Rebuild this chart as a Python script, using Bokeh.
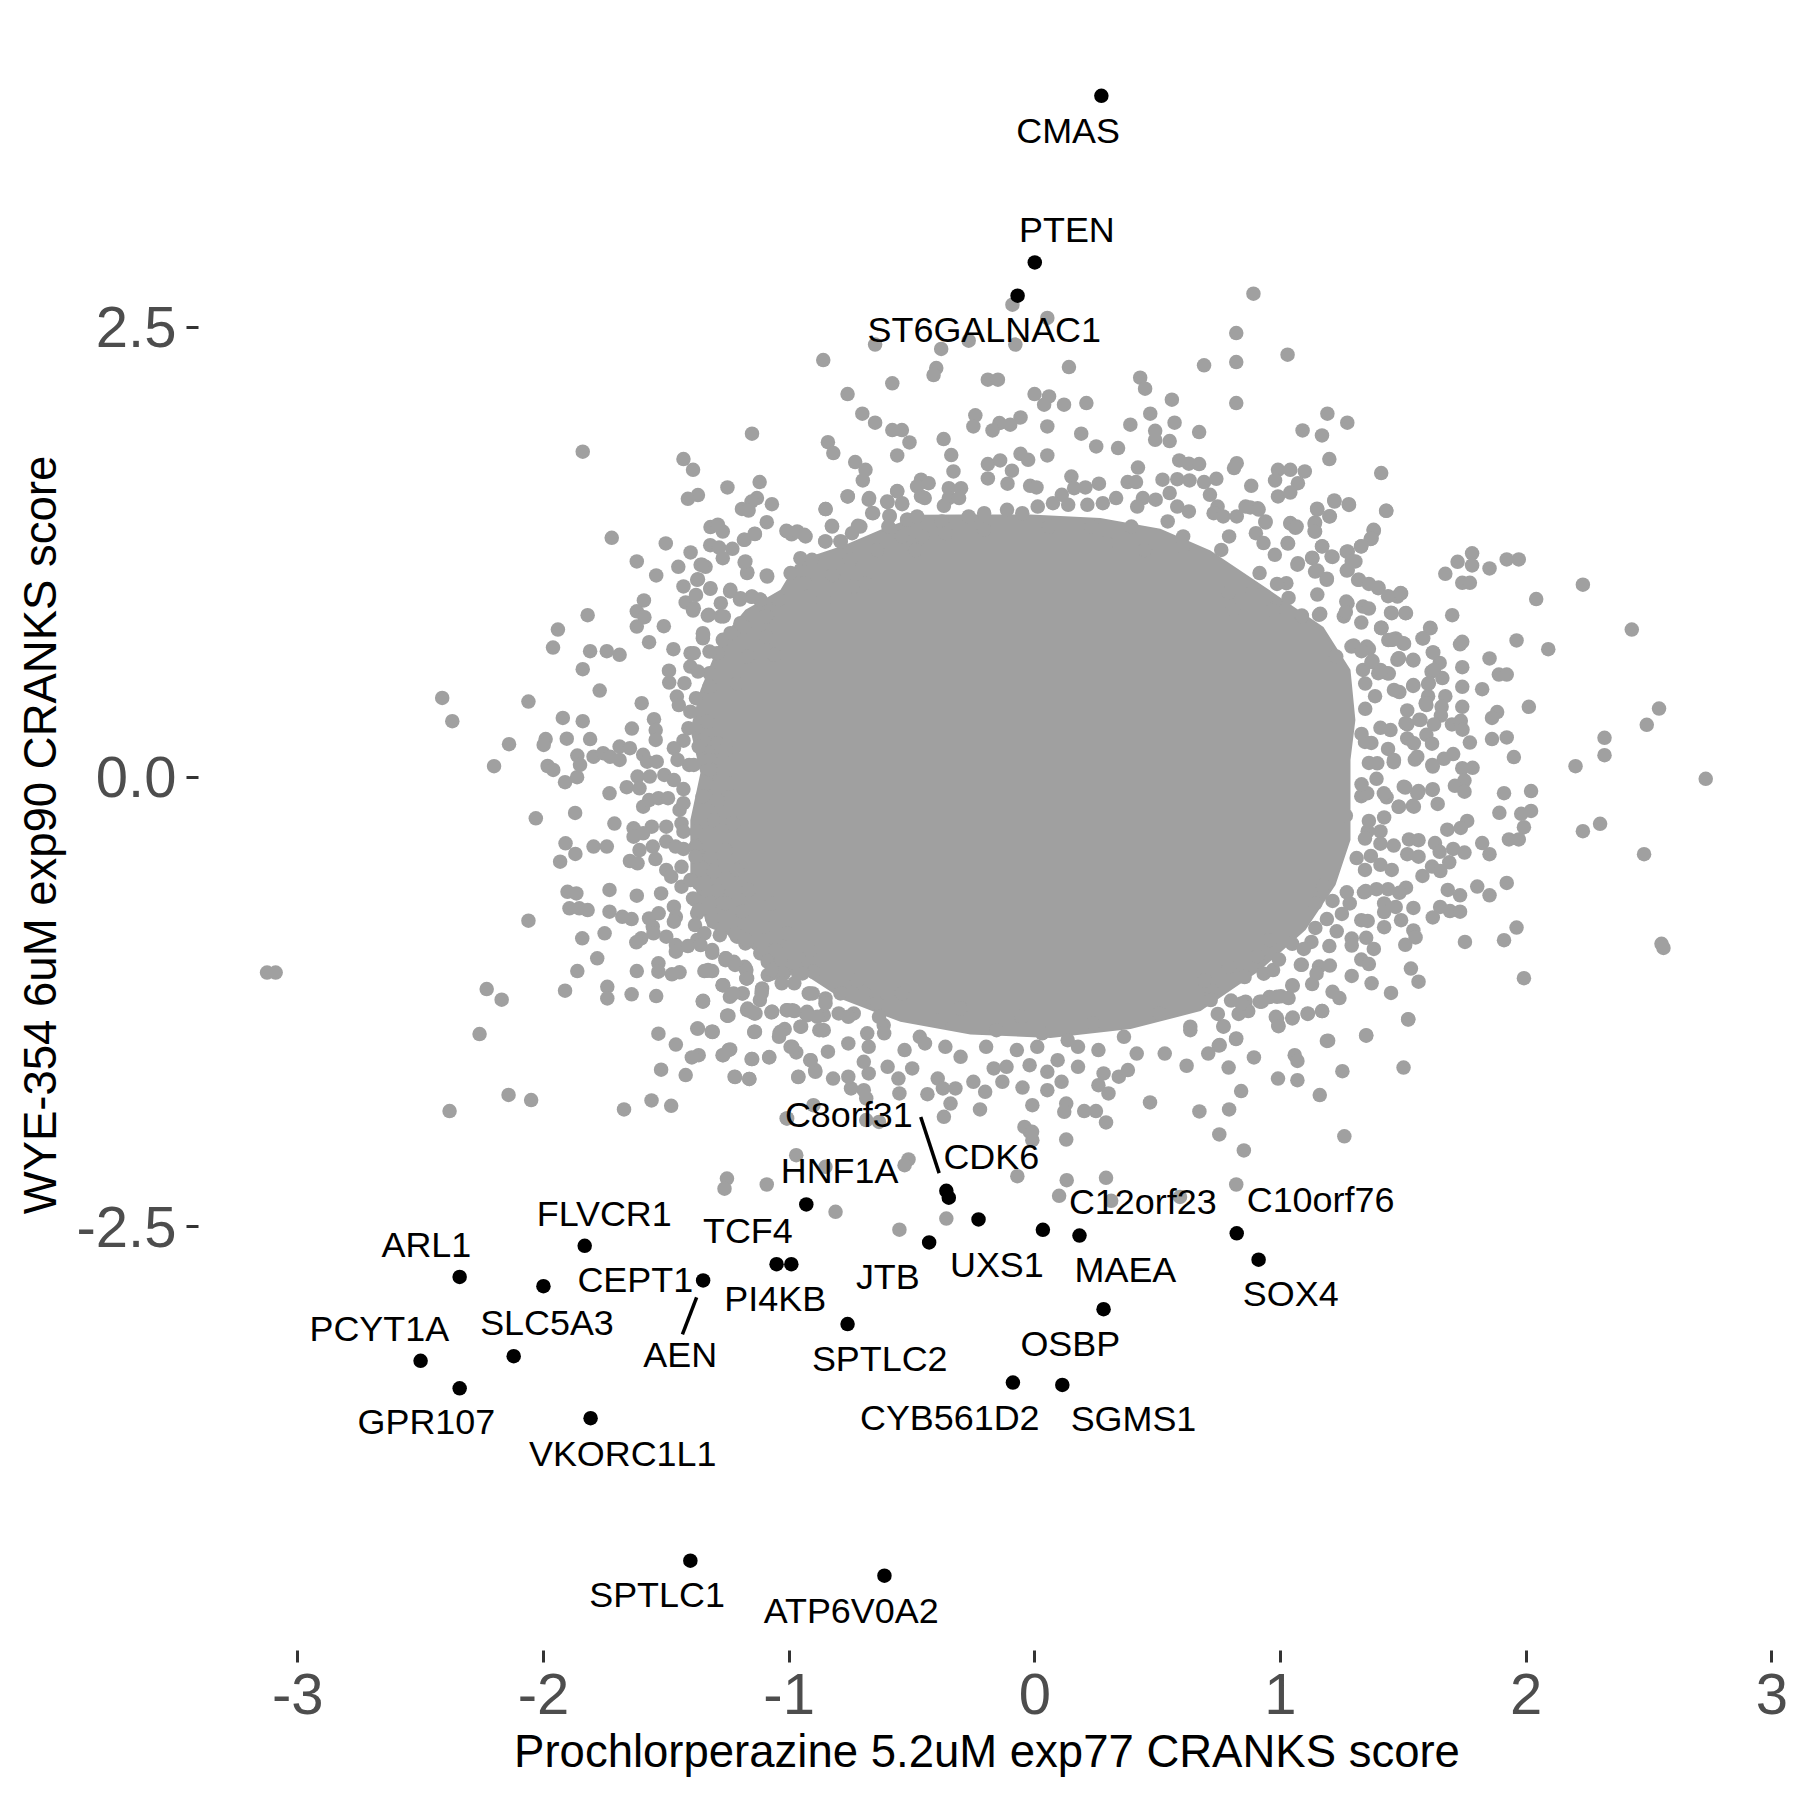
from bokeh.plotting import figure
from bokeh.models import FixedTicker
from bokeh.core.properties import value
from bokeh.embed import file_html
from bokeh.resources import INLINE

# Outline of the solid grey core
core_x = [-1.361,-1.279,-1.178,-1.035,-0.974,-0.893,-0.771,-0.628,-0.465,-0.302,-0.018,0.267,0.511,0.715,0.972,1.175,1.285,1.305,1.285,1.285,1.285,1.224,1.102,0.919,0.675,0.390,0.064,-0.262,-0.547,-0.778,-0.953,-1.063,-1.129,-1.198,-1.332,-1.402,-1.402,-1.361,-1.402]
core_y = [0.485,0.763,0.930,1.041,1.180,1.236,1.291,1.375,1.458,1.46,1.46,1.44,1.38,1.26,1.024,0.835,0.597,0.318,0.096,-0.127,-0.349,-0.600,-0.850,-1.072,-1.30,-1.40,-1.45,-1.43,-1.36,-1.239,-1.083,-1.128,-0.978,-0.905,-0.833,-0.533,-0.238,0.023,0.263]

grey_upper_left = [(-1.151,1.909),(-1.840,1.809),(-1.430,1.768),(-1.391,1.708),(-1.120,1.640),(-1.251,1.610),(-1.371,1.568),(-1.412,1.547),(-1.131,1.551),(-1.153,1.532),(-1.192,1.491),(-1.165,1.482),(-1.070,1.517),(-1.091,1.417),(-1.011,1.369),(-0.99,1.35),(-1.320,1.39),(-1.290,1.403),(-1.270,1.365),(-1.139,1.351),(-1.181,1.319),(-1.722,1.330),(-1.502,1.299),(-1.321,1.289),(-1.285,1.276),(-1.231,1.269),(-1.401,1.249),(-1.270,1.217),(-1.620,1.199),(-1.181,1.193),(-1.451,1.169),(-1.360,1.180),(-1.340,1.169),(-1.170,1.139),(-1.091,1.121),(-1.541,1.121),(-1.371,1.100),(-1.430,1.060),(-1.321,1.047),(-1.240,1.032),(-1.591,0.982),(-1.421,0.971),(-1.379,1.013),(-1.153,1.002),(-1.119,0.987),(-1.200,0.987),(-1.278,0.967),(-1.391,0.926),(-1.620,0.922),(-1.589,0.889),(-1.820,0.900),(-1.620,0.837),(-1.510,0.839),(-1.941,0.820),(-1.331,0.898),(-1.570,0.750),(-1.961,0.720),(-1.810,0.700),(-1.742,0.700),(-1.690,0.680),(-1.471,0.711),(-1.401,0.689),(-1.840,0.600),(-1.489,0.592),(-1.771,0.481),(-2.412,0.440),(-2.061,0.420),(-1.600,0.411),(-2.371,0.311),(-1.921,0.329),(-1.840,0.311),(-1.640,0.270),(-1.550,0.322),(-1.543,0.262),(-1.543,0.207),(-1.991,0.212),(-1.905,0.214),(-1.810,0.212),(-2.140,0.183),(-1.430,0.203),(-1.410,0.272),(-1.332,0.309),(-1.211,0.522),(-1.426,0.522),(-1.488,0.526),(-1.457,0.448),(-1.449,0.401),(-1.402,0.364),(-1.379,0.439),(-1.324,0.503),(-1.324,0.578),(-1.402,0.615),(-1.371,0.587),(-1.293,0.689),(-1.324,0.698),(-1.270,0.763),(-1.351,0.80),(-1.351,0.772),(-1.278,0.893),(-1.239,0.80),(-1.184,0.837),(-1.169,0.670),(-1.091,0.893),(-1.091,0.781),(-1.060,0.680)]

grey_upper_band = [(-1.089,1.115),(-1.171,1.134),(-1.178,1.199),(-1.239,1.041),(-1.151,1.004),(-1.198,0.995),(-1.117,0.986),(-1.320,1.050),(-1.374,1.097),(-1.354,1.180),(-1.388,0.939),(-1.327,0.902),(-1.266,0.893),(-1.198,0.856),(-1.096,0.893),(-1.042,0.986),(-0.994,1.134),(-0.954,1.217),(-0.852,1.310),(-0.791,1.310),(-0.825,1.393),(-0.710,1.393),(-0.852,1.490),(-0.761,1.560),(-0.676,1.542),(-0.662,1.468),(-0.591,1.449),(-0.601,1.532),(-0.540,1.523),(-0.560,1.588),(-0.520,1.431),(-1.008,1.366),(-0.933,1.338),(-0.967,1.366),(-1.140,1.353),(-1.184,1.319),(-1.350,0.791),(-1.388,0.689)]

grey_top = [(0.890,2.687),(-0.091,2.626),(0.051,2.552),(0.820,2.468),(-0.650,2.404),(-0.269,2.426),(-0.079,2.404),(-0.381,2.380),(-0.861,2.318),(1.029,2.348),(0.820,2.307),(0.689,2.289),(0.139,2.279),(-0.401,2.274),(-0.412,2.235),(-0.580,2.189),(-0.191,2.209),(-0.150,2.209),(-0.762,2.129),(0.429,2.220),(0.449,2.159),(-0.001,2.129),(0.058,2.116),(0.038,2.070),(0.119,2.070),(0.210,2.079),(0.558,2.098),(0.820,2.079),(-0.702,2.020),(-0.650,1.970),(0.470,2.020),(1.191,2.020),(1.272,1.970),(-0.242,2.011),(-0.250,1.949),(-0.058,1.999),(-0.100,1.959),(-0.144,1.968),(-0.172,1.927),(0.051,1.949),(0.389,1.959),(0.569,1.970),(-0.580,1.929),(-0.541,1.929),(0.189,1.909),(0.490,1.925),(0.490,1.875),(0.549,1.868),(0.669,1.918),(1.090,1.927),(1.169,1.899),(-0.842,1.862),(-0.510,1.860),(-0.371,1.879),(-0.820,1.801),(0.250,1.838),(0.339,1.829),(-0.560,1.788),(-0.340,1.790),(-0.058,1.797),(-0.027,1.764),(0.051,1.788),(1.199,1.768),(-0.731,1.751),(-0.689,1.708),(-0.191,1.740),(-0.141,1.760),(-0.331,1.699),(-0.093,1.703),(0.420,1.721),(0.588,1.760),(0.627,1.742),(0.669,1.740),(0.822,1.745),(0.811,1.718),(0.990,1.708),(1.040,1.708),(1.099,1.699),(1.410,1.690),(-0.700,1.649),(-0.191,1.660),(-0.463,1.653),(-0.432,1.634),(0.149,1.671),(0.378,1.640),(0.412,1.640),(0.520,1.653),(0.580,1.656),(0.630,1.649),(0.689,1.640),(0.739,1.658),(0.978,1.649),(1.071,1.634),(0.881,1.619),(-0.111,1.631),(-0.019,1.619),(0.007,1.610),(-0.479,1.616),(-0.350,1.606),(-0.300,1.606),(0.160,1.606),(0.206,1.610),(0.261,1.631)]

grey_top_ring = [(-0.560,1.590),(-0.762,1.560),(-0.674,1.551),(-0.599,1.529),(-0.540,1.517),(-0.463,1.560),(-0.448,1.551),(-0.350,1.551),(-0.308,1.551),(0.549,1.579),(0.713,1.569),(0.990,1.560),(1.040,1.582),(0.110,1.569),(0.331,1.551),(0.440,1.551),(0.492,1.542),(1.219,1.538),(1.278,1.517),(1.431,1.480),(-0.851,1.490),(1.149,1.492),(1.199,1.449),(0.858,1.504),(0.907,1.495),(-0.658,1.467),(-0.591,1.453),(-0.370,1.508),(0.012,1.504),(0.074,1.523),(0.136,1.514),(0.214,1.514),(0.277,1.523),(0.417,1.504),(0.580,1.504),(0.627,1.477),(0.744,1.504),(0.728,1.467),(0.767,1.449),(0.822,1.449),(0.939,1.421),(1.040,1.412),(1.066,1.393),(1.141,1.415),(1.141,1.365),(1.379,1.375),(1.367,1.323),(1.328,1.282),(1.169,1.282),(1.029,1.301),(-0.826,1.397),(-0.720,1.397),(-0.596,1.393),(-0.518,1.430),(-0.479,1.449),(-0.378,1.421),(-0.269,1.449),(-0.206,1.467),(-0.113,1.486),(-0.051,1.467),(0.541,1.421),(0.393,1.393),(-0.938,1.347),(-0.853,1.310),(-0.790,1.310),(-0.744,1.356),(-0.541,1.338),(-0.456,1.338),(-0.362,1.356),(-0.206,1.375),(0.058,1.393),(0.230,1.393),(0.604,1.338),(0.900,1.356),(0.791,1.338),(0.931,1.301),(1.274,1.254),(1.208,1.226),(1.130,1.217),(1.305,1.199),(1.274,1.152),(1.188,1.097),(1.141,1.143),(1.071,1.189),(0.977,1.236),(1.024,1.078),(1.320,1.097),(1.398,1.050),(1.476,1.004),(1.273,0.967),(1.336,0.948),(1.453,0.911),(1.157,0.902),(1.087,0.893),(0.977,0.939),(1.411,0.831),(1.453,0.763),(1.289,0.726),(1.351,0.726),(1.227,0.670),(1.476,0.652),(1.398,0.578),(1.336,0.596),(1.258,0.893),(0.759,1.263),(0.604,1.282),(0.448,1.263),(0.292,1.301),(-0.642,1.263),(-0.752,1.208),(-0.907,1.208),(-0.822,1.124),(-0.938,1.078),(-0.487,1.263),(-0.736,1.060),(-0.860,0.985),(-0.689,1.078),(0.915,1.134),(0.806,0.930)]

grey_right = [(1.430,1.480),(0.877,1.499),(0.911,1.487),(1.150,1.487),(1.201,1.450),(1.279,1.513),(1.220,1.532),(1.041,1.409),(1.061,1.386),(1.139,1.409),(1.139,1.366),(0.939,1.415),(1.380,1.370),(1.371,1.327),(1.329,1.283),(1.031,1.298),(1.170,1.283),(1.212,1.224),(1.129,1.220),(1.270,1.253),(1.290,1.201),(1.270,1.148),(1.150,1.148),(1.189,1.103),(1.069,1.181),(1.780,1.244),(1.721,1.197),(1.780,1.177),(1.851,1.160),(1.921,1.210),(1.970,1.210),(1.671,1.130),(1.740,1.080),(1.771,1.080),(2.231,1.070),(2.041,0.990),(1.699,0.900),(2.430,0.820),(1.316,1.097),(1.360,1.074),(1.399,1.054),(1.491,1.021),(1.438,1.006),(1.511,0.912),(1.450,0.914),(1.268,0.976),(1.360,0.937),(1.266,0.918),(1.162,0.908),(1.087,0.898),(1.150,1.015),(1.033,0.996),(0.986,1.074),(0.885,1.025),(0.791,1.025),(0.970,0.927),(1.329,0.859),(1.609,0.830),(1.410,0.830),(1.578,0.771),(1.439,0.762),(1.469,0.771),(1.503,0.742),(1.740,0.752),(1.731,0.738),(1.961,0.760),(2.090,0.711),(1.298,0.732),(1.360,0.713),(1.620,0.693),(1.851,0.660),(1.481,0.660),(1.541,0.649),(1.648,0.635),(1.615,0.586),(1.740,0.611),(1.375,0.645),(1.441,0.576),(1.889,0.570),(1.921,0.570),(1.659,0.551),(1.601,0.518),(1.541,0.512),(1.740,0.502),(1.821,0.489),(1.484,0.473),(1.671,0.450),(1.601,0.450),(1.594,0.401),(2.011,0.391),(2.541,0.381),(1.740,0.391),(1.656,0.391),(1.882,0.362),(1.861,0.329),(1.516,0.371),(1.565,0.319),(1.653,0.342),(1.698,0.293),(1.734,0.313),(1.741,0.264),(2.491,0.291),(2.319,0.219),(1.771,0.192),(1.861,0.212),(1.921,0.221),(1.625,0.293),(1.516,0.293),(1.407,0.274),(1.594,0.235),(1.516,0.215),(1.617,0.186),(1.344,0.196),(1.438,0.157),(1.950,0.112),(2.319,0.122),(1.703,0.128),(1.665,0.102),(1.547,0.098),(2.201,0.061),(1.620,0.059),(1.740,0.050),(1.782,0.052),(1.461,0.083),(2.731,-0.009),(1.360,0.079),(1.391,-0.009),(1.749,-0.019),(1.710,-0.048),(1.749,-0.081),(1.620,-0.067),(1.508,-0.058),(1.562,-0.077),(1.910,-0.089),(2.020,-0.077),(1.432,-0.112),(1.640,-0.149),(1.539,-0.159),(1.481,-0.165),(1.329,-0.106)]

grey_right_band = [(1.410,0.828),(1.509,0.911),(1.489,1.023),(1.611,0.828),(1.581,0.772),(1.455,0.763),(1.500,0.744),(1.482,0.661),(1.540,0.652),(1.622,0.693),(1.625,0.596),(1.540,0.507),(1.604,0.522),(1.591,0.411),(1.570,0.318),(1.509,0.300),(1.434,0.578),(1.407,0.596),(1.462,0.485),(1.543,0.188),(1.618,0.068),(1.462,0.096),(1.557,0.114),(1.618,-0.071),(1.502,-0.053),(1.557,-0.090),(1.482,-0.164),(1.421,-0.090),(1.353,-0.090),(1.543,-0.164),(1.394,0.077),(1.448,0.262),(1.330,0.700),(1.370,0.640),(1.345,0.520),(1.385,0.450),(1.345,0.380),(1.330,0.240),(1.370,0.190),(1.330,-0.040),(1.355,-0.300),(1.310,-0.450),(1.340,-0.640),(1.270,-0.640),(1.250,-0.760)]

grey_lower_right = [(1.891,-0.198),(1.980,-0.204),(2.020,-0.188),(1.760,-0.243),(1.991,-0.278),(1.734,-0.282),(1.679,-0.292),(2.301,-0.259),(2.231,-0.300),(1.422,-0.224),(1.360,-0.243),(1.266,-0.214),(1.407,-0.302),(1.523,-0.346),(1.562,-0.350),(1.930,-0.346),(1.970,-0.346),(1.629,-0.366),(1.407,-0.370),(1.461,-0.380),(1.821,-0.366),(1.703,-0.399),(1.749,-0.419),(1.851,-0.428),(2.480,-0.428),(1.648,-0.415),(1.516,-0.428),(1.562,-0.442),(1.344,-0.341),(1.687,-0.473),(1.368,-0.438),(1.617,-0.497),(1.407,-0.487),(1.453,-0.516),(1.651,-0.522),(1.578,-0.549),(1.344,-0.516),(1.921,-0.588),(1.511,-0.614),(1.801,-0.608),(1.681,-0.627),(1.731,-0.657),(1.851,-0.657),(1.438,-0.623),(1.391,-0.623),(1.484,-0.643),(1.347,-0.633),(1.282,-0.702),(1.212,-0.688),(1.422,-0.702),(1.469,-0.721),(1.541,-0.727),(1.650,-0.721),(1.690,-0.744),(1.731,-0.748),(1.620,-0.780),(1.422,-0.750),(1.189,-0.789),(1.329,-0.795),(1.355,-0.799),(1.491,-0.795),(1.422,-0.834),(1.961,-0.836),(1.229,-0.857),(1.541,-0.852),(1.550,-0.891),(1.508,-0.932),(1.910,-0.906),(1.751,-0.916),(1.290,-0.897),(1.290,-0.936),(1.349,-0.893),(1.380,-0.955),(1.199,-0.939),(2.551,-0.926),(2.559,-0.949),(1.329,-1.014),(1.360,-1.039),(1.531,-1.064),(1.201,-1.047),(1.157,-1.053),(1.083,-1.043),(1.562,-1.137),(1.991,-1.117),(1.290,-1.105),(1.371,-1.146),(1.147,-1.092),(1.129,-1.150),(1.050,-1.160),(1.450,-1.199),(1.212,-1.193),(1.240,-1.228),(1.002,-1.218),(1.033,-1.228),(0.955,-1.222),(0.916,-1.248),(1.170,-1.300),(1.111,-1.316),(1.050,-1.336),(0.981,-1.332),(0.991,-1.378),(1.520,-1.345),(0.858,-1.248),(0.799,-1.242),(0.869,-1.300),(0.830,-1.316),(0.745,-1.316),(0.768,-1.384),(1.349,-1.437),(0.819,-1.456),(1.189,-1.466),(0.749,-1.492),(0.932,-1.092),(0.854,-1.111),(0.791,-1.053),(0.970,-1.072),(0.994,-1.014),(1.087,-1.043),(0.908,-0.994),(1.048,-0.926),(0.955,-0.906),(1.126,-0.916),(1.142,-0.838),(1.095,-0.955),(1.142,-0.702),(1.173,-0.604),(0.721,-1.189),(0.690,-1.131)]

grey_left = [(-1.999,0.179),(-2.201,0.061),(-1.983,0.062),(-1.960,0.040),(-1.862,0.120),(-1.851,0.068),(-1.863,0.0),(-1.912,-0.028),(-1.796,0.114),(-1.757,0.133),(-1.729,0.114),(-1.690,0.096),(-1.690,0.170),(-1.648,0.161),(-1.594,0.124),(-1.578,0.086),(-1.539,0.086),(-1.469,0.161),(-1.407,0.068),(-1.454,0.096),(-1.617,0.003),(-1.567,0.003),(-1.508,0.012),(-1.469,-0.016),(-1.430,-0.066),(-1.661,-0.056),(-1.609,-0.062),(-1.731,-0.090),(-1.594,-0.164),(-1.570,-0.127),(-1.532,-0.117),(-1.493,-0.117),(-1.446,-0.182),(-1.430,-0.145),(-1.871,-0.199),(-2.031,-0.229),(-1.711,-0.258),(-1.633,-0.284),(-1.559,-0.275),(-1.500,-0.275),(-1.633,-0.331),(-1.594,-0.312),(-1.438,-0.257),(-1.430,-0.303),(-1.376,-0.303),(-1.306,-0.238),(-1.910,-0.368),(-1.796,-0.386),(-1.742,-0.386),(-1.870,-0.427),(-1.932,-0.470),(-1.609,-0.405),(-1.555,-0.386),(-1.500,-0.358),(-1.462,-0.386),(-1.430,-0.399),(-1.368,-0.396),(-1.648,-0.466),(-1.617,-0.479),(-1.544,-0.455),(-1.500,-0.516),(-1.480,-0.553),(-1.438,-0.498),(-1.321,-0.442),(-1.259,-0.405),(-1.306,-0.525),(-1.902,-0.637),(-1.866,-0.646),(-1.731,-0.627),(-1.620,-0.659),(-1.521,-0.646),(-1.438,-0.609),(-1.368,-0.590),(-1.290,-0.627),(-1.391,-0.674),(-1.352,0.207),(-1.368,0.170),(-1.290,0.188),(-1.321,0.096),(-1.321,0.040),(-1.337,-0.034),(-1.352,-0.108),(-1.290,-0.127),(-1.259,0.151),(-1.243,-0.034),(-1.228,-0.257),(-1.212,-0.516),(-1.165,-0.627),(-1.103,-0.831),(-1.010,-0.868),(-1.072,-0.701)]

grey_lower_band = [(-1.388,0.068),(-1.381,-0.386),(-1.381,-0.442),(-1.402,-0.572),(-1.381,-0.683),(-1.313,-0.785),(-1.374,-0.757),(-1.374,-0.905),(-1.313,-0.961),(-1.259,-1.007),(-1.225,-1.026),(-1.178,-1.063),(-1.171,-1.119),(-1.212,-0.887),(-1.178,-0.924),(-1.117,-0.980),(-1.076,-1.000),(-1.069,-1.091),(-1.022,-1.091),(-1.110,-1.174),(-1.191,-1.202),(-1.241,-1.221),(-1.270,-1.156),(-1.331,-1.076),(-1.350,-1.243),(-1.252,-1.326),(-1.171,-1.295),(-1.137,-1.313),(-1.069,-1.304),(-1.008,-1.295),(-0.927,-1.304),(-0.954,-1.387),(-0.859,-1.323),(-0.852,-1.230),(-0.920,-1.202),(-0.954,-1.072),(-0.791,-1.202),(-0.798,-1.313),(-0.723,-1.128),(-0.737,-1.313),(-0.859,-1.406),(-1.035,-1.415),(-1.141,-1.415),(-1.311,-1.415),(-1.374,-1.397),(-0.682,-1.424),(-0.615,-1.378),(-0.642,-1.258)]

grey_lower_left = [(-1.894,-0.729),(-1.854,-0.729),(-1.820,-0.739),(-1.731,-0.748),(-1.679,-0.776),(-1.641,-0.789),(-2.061,-0.798),(-1.570,-0.785),(-1.531,-0.757),(-1.469,-0.720),(-1.461,-0.776),(-1.469,-0.803),(-1.368,-0.738),(-1.313,-0.785),(-1.383,-0.822),(-1.555,-0.831),(-1.552,-0.868),(-1.321,-0.701),(-1.259,-0.701),(-1.189,-0.748),(-1.751,-0.868),(-1.842,-0.896),(-1.500,-0.887),(-1.345,-0.868),(-1.282,-0.878),(-1.220,-0.868),(-1.602,-0.896),(-1.622,-0.918),(-1.461,-0.933),(-1.412,-0.939),(-1.360,-0.933),(-1.461,-0.970),(-1.313,-0.976),(-1.173,-0.905),(-1.103,-0.952),(-1.056,-0.961),(-1.259,-1.017),(-1.220,-1.044),(-1.181,-1.054),(-1.781,-1.007),(-1.532,-1.035),(-1.087,-1.026),(-1.033,-1.017),(-0.916,-0.961),(-1.862,-1.078),(-1.620,-1.078),(-1.532,-1.081),(-1.477,-1.096),(-1.446,-1.085),(-1.345,-1.078),(-1.313,-1.078),(-1.173,-1.119),(-1.087,-1.100),(-1.025,-1.091),(-0.963,-1.091),(-0.901,-1.082),(-2.231,-1.178),(-1.740,-1.165),(-1.912,-1.187),(-2.170,-1.237),(-1.740,-1.230),(-1.641,-1.207),(-1.541,-1.217),(-1.271,-1.156),(-1.236,-1.211),(-1.189,-1.202),(-1.111,-1.183),(-1.119,-1.239),(-1.030,-1.146),(-0.979,-1.146),(-0.916,-1.202),(-1.351,-1.246),(-1.169,-1.286),(-1.142,-1.313),(-1.072,-1.308),(-1.010,-1.295),(-0.979,-1.300),(-0.932,-1.313),(-0.885,-1.332),(-1.251,-1.326),(-0.951,-1.387),(-2.260,-1.428),(-1.532,-1.426),(-1.371,-1.397),(-1.312,-1.417),(-1.142,-1.417),(-1.018,-1.400),(-1.041,-1.443),(-0.877,-1.406),(-1.461,-1.486),(-0.994,-1.499),(-0.971,-1.530),(-1.368,-1.545),(-1.396,-1.558),(-1.240,-1.513),(-1.271,-1.545),(-1.150,-1.567),(-1.081,-1.556),(-0.912,-1.573),(-0.893,-1.638),(-1.521,-1.626),(-1.421,-1.656),(-1.220,-1.667),(-1.162,-1.677),(-0.963,-1.667),(-2.142,-1.766),(-2.050,-1.795),(-1.560,-1.797),(-1.480,-1.827),(-1.672,-1.847),(-2.382,-1.856),(-1.010,-1.897),(-0.901,-1.823)]

grey_bottom = [(-1.257,-1.007),(-1.330,-1.072),(-1.174,-1.072),(-1.268,-1.156),(-1.226,-1.202),(-1.070,-1.072),(-1.174,-1.119),(-0.946,-1.091),(-1.112,-1.202),(-0.904,-1.202),(-1.351,-1.248),(-1.153,-1.304),(-1.070,-1.304),(-0.987,-1.295),(-0.925,-1.323),(-0.852,-1.258),(-1.247,-1.326),(-1.315,-1.415),(-1.139,-1.415),(-1.039,-1.424),(-0.863,-1.406),(-0.759,-1.332),(-0.696,-1.202),(-0.634,-1.332),(-0.541,-1.202),(-0.468,-1.443),(-0.613,-1.424),(-0.385,-1.350),(-0.302,-1.285),(-0.156,-1.406),(-0.053,-1.332),(0.030,-1.424),(0.134,-1.462),(0.238,-1.369),(0.363,-1.443),(0.508,-1.313),(0.633,-1.387),(0.768,-1.387),(0.716,-1.239),(0.841,-1.258),(0.924,-1.248),(0.986,-1.221),(1.048,-1.156),(0.986,-1.341),(0.992,-1.384),(1.048,-1.341),(1.111,-1.313),(1.169,-1.300),(1.520,-1.347),(1.349,-1.434),(1.194,-1.465),(0.820,-1.452),(0.753,-1.489),(0.706,-1.536),(0.529,-1.536),(0.415,-1.536),(0.892,-1.558),(1.058,-1.545),(1.069,-1.577),(0.789,-1.614),(0.618,-1.604),(0.990,-1.675),(1.069,-1.684),(1.252,-1.634),(1.501,-1.614),(1.160,-1.767),(0.840,-1.745),(0.791,-1.847),(0.670,-1.858),(0.469,-1.808),(0.751,-1.986),(1.260,-1.996),(0.851,-2.075),(0.128,-2.014),(0.290,-1.919),(0.249,-1.856),(0.201,-1.856),(0.128,-1.814),(0.120,-1.860),(-0.010,-1.823),(-0.010,-2.018),(-0.020,-1.971),(-0.042,-1.944),(-0.011,-1.971),(-0.223,-1.847),(-0.343,-1.814),(-0.370,-1.888),(-0.634,-1.916),(-0.686,-1.906),(-1.008,-1.897),(-0.202,-1.749),(-0.250,-1.693),(-0.050,-1.725),(-0.132,-1.693),(0.051,-1.740),(0.109,-1.693),(0.259,-1.712),(0.300,-1.758),(0.280,-1.647),(0.342,-1.665),(0.379,-1.628),(-0.021,-1.601),(0.051,-1.638),(-0.167,-1.619),(-0.115,-1.610),(-0.302,-1.554),(-0.395,-1.675),(-0.437,-1.762),(-0.374,-1.730),(-0.323,-1.730),(-0.555,-1.675),(-0.551,-1.758),(-0.599,-1.610),(-0.499,-1.619),(-0.696,-1.740),(-0.686,-1.786),(-0.748,-1.730),(-0.759,-1.665),(-0.821,-1.675),(-0.894,-1.628),(-0.914,-1.573),(-0.962,-1.665),(-1.081,-1.558),(-1.153,-1.567),(-1.222,-1.665),(-1.162,-1.677),(-1.247,-1.517),(-1.268,-1.545),(-0.987,-1.499),(-0.842,-1.526),(-0.759,-1.480),(-0.676,-1.499),(-0.696,-1.582),(-0.676,-1.647),(-0.530,-1.517),(-0.447,-1.480),(-0.364,-1.499),(-0.198,-1.499),(-0.073,-1.517),(0.010,-1.499),(0.093,-1.573),(0.176,-1.610),(0.259,-1.517),(0.176,-1.499),(0.633,-1.406),(-0.514,-2.125),(-0.530,-2.157),(-0.971,-2.101),(-0.852,-2.166),(-0.071,-2.218),(0.130,-2.240),(0.290,-2.227),(0.820,-2.264),(-1.253,-2.231),(-1.263,-2.287),(-1.091,-2.264),(0.099,-2.327),(0.311,-2.355),(-0.811,-2.416),(-0.360,-2.453),(-0.551,-2.515),(0.591,-2.333)]

grey_far_left = [(-3.125,-1.086),(-3.09,-1.086)]

genes = ["CMAS","PTEN","ST6GALNAC1","C8orf31","CDK6","HNF1A","UXS1","C12orf23","MAEA","C10orf76","SOX4","OSBP","JTB","TCF4","PI4KB","AEN","CEPT1","FLVCR1","ARL1","SLC5A3","PCYT1A","GPR107","VKORC1L1","SPTLC2","CYB561D2","SGMS1","SPTLC1","ATP6V0A2"]
gene_x = [0.271,0.0,-0.07,-0.36,-0.35,-0.93,-0.229,0.033,0.182,0.822,0.911,0.28,-0.43,-1.051,-0.991,-1.35,-2.0,-1.832,-2.341,-2.121,-2.5,-2.341,-1.808,-0.762,-0.089,0.112,-1.402,-0.612]
gene_y = [3.787,2.861,2.676,-2.299,-2.337,-2.375,-2.458,-2.516,-2.548,-2.535,-2.682,-2.957,-2.586,-2.707,-2.707,-2.797,-2.829,-2.605,-2.778,-3.218,-3.244,-3.397,-3.563,-3.04,-3.365,-3.378,-4.355,-4.438]

x_ticks = [-3,-2,-1,0,1,2,3]
y_ticks = [-2.5,0.0,2.5]
y_tick_labels = ["-2.5","0.0","2.5"]
x_title = "Prochlorperazine 5.2uM exp77 CRANKS score"
y_title = "WYE-354 6uM exp90 CRANKS score"

# ---- layout ----
PX_X, PX_Y = 245.66, 179.8
F = 1800 / 1568
label_dx = [-29,28,-29,-85,37,29,16,87,40,73,28,-29,-36,-25,-14,-20,80,17,-29,29,-36,-29,28,28,-55,62,-29,-29]
label_dy = [31,-28,30,-66,-35,-29,40,-24,30,-29,30,30,30,-29,30,65,-5,-28,-28,-29,-28,29,31,30,31,30,30,31]
font = value("Liberation Sans")

p = figure(width=1792, height=1792, output_backend="svg", toolbar_location=None,
           x_range=(-3.404, 3.015), y_range=(-4.854, 4.211),
           min_border_left=198, min_border_right=17, min_border_top=19, min_border_bottom=142,
           frame_width=1577, frame_height=1631)
p.outline_line_color = None
p.grid.visible = False
p.background_fill_color = "white"
p.border_fill_color = "white"

GREY = "#A0A0A0"
p.patch(core_x, core_y, fill_color=GREY, line_color=None)
for group in [grey_upper_left, grey_upper_band, grey_top, grey_top_ring, grey_right, grey_right_band,
              grey_lower_right, grey_left, grey_lower_band, grey_lower_left, grey_bottom, grey_far_left]:
    p.scatter([a for a, _ in group], [b for _, b in group], size=14.5, color=GREY, line_color=None)
p.scatter(gene_x, gene_y, size=14.5, color="black", line_color=None)

ia, ic = genes.index("AEN"), genes.index("C8orf31")
seg_px = [(ia, -6.5, 17, -20.7, 54), (ic, -25.6, -73.7, -7.2, -17.7)]
p.segment([gene_x[i] + a / PX_X for i, a, b, c, d in seg_px],
          [gene_y[i] - b / PX_Y for i, a, b, c, d in seg_px],
          [gene_x[i] + c / PX_X for i, a, b, c, d in seg_px],
          [gene_y[i] - d / PX_Y for i, a, b, c, d in seg_px],
          line_color="black", line_width=3.5)

p.text(gene_x, gene_y, text=genes, x_offset=[d * F for d in label_dx], y_offset=[d * F for d in label_dy],
       text_align="center", text_baseline="middle", text_font=font, text_font_size="35.9px", text_color="black")

for ax in (p.xaxis[0], p.yaxis[0]):
    ax.axis_line_color = None
    ax.major_tick_line_color = "#333333"
    ax.major_tick_line_width = 3
    ax.major_tick_in = 0
    ax.major_tick_out = 12
    ax.minor_tick_line_color = None
    ax.major_label_text_font = "Liberation Sans"
    ax.major_label_text_font_size = "58px"
    ax.major_label_text_color = "#4D4D4D"
    ax.axis_label_text_font = "Liberation Sans"
    ax.axis_label_text_font_size = "45.5px"
    ax.axis_label_text_font_style = "normal"
    ax.axis_label_text_color = "black"

p.xaxis[0].ticker = FixedTicker(ticks=x_ticks)
p.xaxis[0].major_label_overrides = {t: str(t) for t in x_ticks}
p.xaxis[0].major_label_standoff = 11
p.xaxis[0].axis_label = x_title
p.xaxis[0].axis_label_standoff = 9
p.yaxis[0].ticker = FixedTicker(ticks=y_ticks)
p.yaxis[0].major_label_overrides = dict(zip(y_ticks, y_tick_labels))
p.yaxis[0].major_label_standoff = 10
p.yaxis[0].axis_label = y_title
p.yaxis[0].axis_label_standoff = 8

open("out.html", "w").write(file_html(p, INLINE))
